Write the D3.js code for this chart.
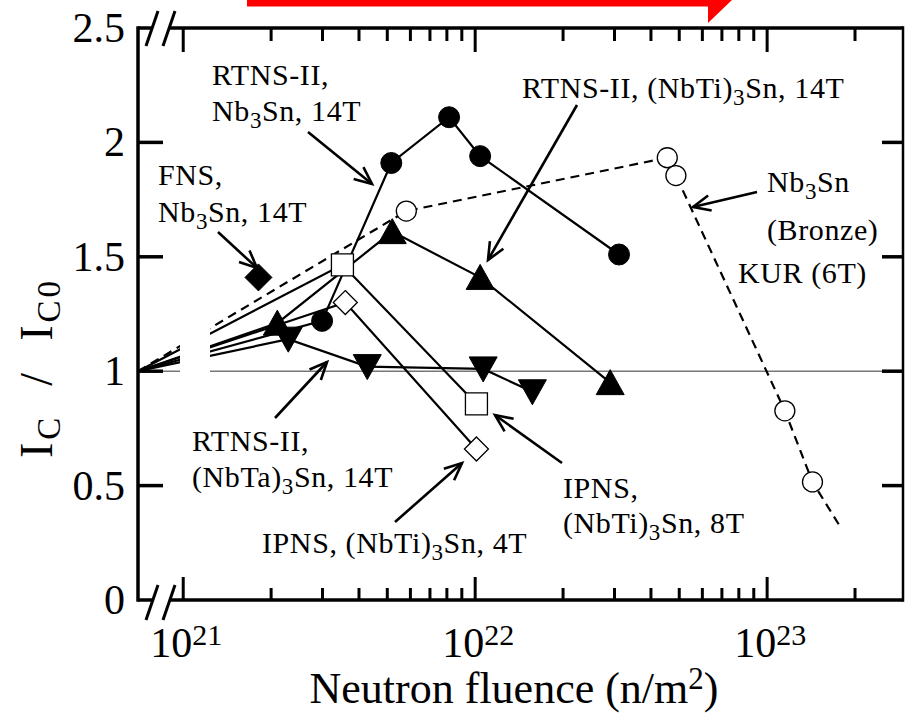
<!DOCTYPE html>
<html><head><meta charset="utf-8">
<script src="https://cdn.jsdelivr.net/npm/d3@7"></script>
<style>
body{margin:0;background:#fff}
text{font-family:'Liberation Serif','Times New Roman',serif;fill:#000}
</style>
</head><body>
<svg id="c" width="905" height="715"></svg>
<script>
// ---------- data ----------
// zero-fluence reference point (Ic/Ic0 = 1) drawn at the broken left edge of the log axis
const zeroFluence = 7e20;
const zeroRatio = 1.0;

// RTNS-II, Nb3Sn, 14T (filled circles)
const rtnsNb3SnX = [2.99e21, 5.16e21, 8.14e21, 1.04e22, 3.11e22];
const rtnsNb3SnY = [1.22, 1.91, 2.11, 1.94, 1.51];
// RTNS-II, (NbTi)3Sn, 14T (filled up-triangles)
const rtnsNbTiX = [2.10e21, 5.20e21, 1.04e22, 2.90e22];
const rtnsNbTiY = [1.21, 1.61, 1.41, 0.95];
// RTNS-II, (NbTa)3Sn, 14T (filled down-triangles)
const rtnsNbTaX = [2.29e21, 4.27e21, 1.065e22, 1.57e22];
const rtnsNbTaY = [1.14, 1.02, 1.01, 0.91];
// FNS, Nb3Sn, 14T (filled diamond)
const fnsX = [1.81e21];
const fnsY = [1.41];
// IPNS, (NbTi)3Sn, 8T (open squares)
const ipns8X = [3.51e21, 1.01e22];
const ipns8Y = [1.465, 0.857];
// IPNS, (NbTi)3Sn, 4T (open diamonds)
const ipns4X = [3.59e21, 1.01e22];
const ipns4Y = [1.30, 0.66];
// KUR (6T), Nb3Sn (Bronze) (open circles, dashed)
const kurX = [5.81e21, 4.55e22, 4.87e22, 1.15e23, 1.43e23];
const kurY = [1.70, 1.933, 1.855, 0.827, 0.516];
const kurTrendEndX = 1.78e23;
const kurTrendEndY = 0.32;

// axes
const yTicks = [0, 0.5, 1, 1.5, 2, 2.5];
const yTickLabels = ["0", "0.5", "1", "1.5", "2", "2.5"];
const xMajor = [1e21, 1e22, 1e23];
const xMajorExp = ["21", "22", "23"];
const xMinor = [2e21,3e21,4e21,5e21,6e21,7e21,8e21,9e21,2e22,3e22,4e22,5e22,6e22,7e22,8e22,9e22,2e23];
const xDomain = [7e20, 2.92e23];
const yDomain = [0, 2.5];

// ---------- layout ----------
const L = 138, R = 903, T = 28, B = 600;
const svg = d3.select("#c");
const x = d3.scaleLog().domain(xDomain).range([L, R]);
const y = d3.scaleLinear().domain(yDomain).range([B, T]);

const zip = (xs, ys) => xs.map((v, i) => [v, ys[i]]);
const withOrigin = (xs, ys) => [[zeroFluence, zeroRatio]].concat(zip(xs, ys));
const line = d3.line().x(d => x(d[0])).y(d => y(d[1]));

const gLines = svg.append("g");
// reference line at 1
gLines.append("path").attr("d", line([[xDomain[0], 1], [xDomain[1], 1]]))
  .attr("stroke", "#777").attr("stroke-width", 1.6).attr("fill", "none");

const solidSeries = [
  withOrigin(rtnsNb3SnX, rtnsNb3SnY),
  withOrigin(rtnsNbTiX, rtnsNbTiY),
  withOrigin(rtnsNbTaX, rtnsNbTaY),
  withOrigin(ipns8X, ipns8Y),
  withOrigin(ipns4X, ipns4Y)
];
solidSeries.forEach(s => gLines.append("path").attr("d", line(s))
  .attr("stroke", "#000").attr("stroke-width", 2.2).attr("fill", "none"));
gLines.append("path")
  .attr("d", line(withOrigin(kurX, kurY).concat([[kurTrendEndX, kurTrendEndY]])))
  .attr("stroke", "#000").attr("stroke-width", 2.2).attr("fill", "none")
  .attr("stroke-dasharray", "9,6");

// axis break gap in the plot
svg.append("rect").attr("x", 180).attr("y", T + 3).attr("width", 30).attr("height", B - T - 6)
  .attr("fill", "#fff");

// ---------- markers ----------
const gM = svg.append("g");
function mark(xs, ys, shape) {
  zip(xs, ys).forEach(d => {
    const cx = x(d[0]), cy = y(d[1]);
    let p;
    if (shape === "circleF" || shape === "circleO") {
      gM.append("circle").attr("cx", cx).attr("cy", cy).attr("r", shape === "circleF" ? 10.5 : 10)
        .attr("fill", shape === "circleF" ? "#000" : "#fff").attr("stroke", "#000")
        .attr("stroke-width", shape === "circleF" ? 1 : 1.3);
      return;
    }
    if (shape === "triUp") p = `M${cx},${cy-13}L${cx+14},${cy+12}L${cx-14},${cy+12}Z`;
    if (shape === "triDown") p = `M${cx-14},${cy-12}L${cx+14},${cy-12}L${cx},${cy+13}Z`;
    if (shape === "diamondF") p = `M${cx},${cy-13.5}L${cx+13.5},${cy}L${cx},${cy+13.5}L${cx-13.5},${cy}Z`;
    if (shape === "diamondO") p = `M${cx},${cy-12}L${cx+12},${cy}L${cx},${cy+12}L${cx-12},${cy}Z`;
    if (shape === "square") p = `M${cx-11},${cy-11}h22v22h-22Z`;
    const filled = shape === "triUp" || shape === "triDown" || shape === "diamondF";
    gM.append("path").attr("d", p).attr("fill", filled ? "#000" : "#fff")
      .attr("stroke", "#000").attr("stroke-width", filled ? 1 : 1.3);
  });
}
mark(kurX, kurY, "circleO");
mark(ipns8X, ipns8Y, "square");
mark(ipns4X, ipns4Y, "diamondO");
mark(rtnsNb3SnX, rtnsNb3SnY, "circleF");
mark(rtnsNbTiX, rtnsNbTiY, "triUp");
mark(rtnsNbTaX, rtnsNbTaY, "triDown");
mark(fnsX, fnsY, "diamondF");

// ---------- frame & ticks ----------
const gA = svg.append("g").attr("stroke", "#000").attr("fill", "none").attr("stroke-linecap", "butt");
const aw = 3.5;
gA.append("line").attr("x1", L).attr("x2", L).attr("y1", T - 1.7).attr("y2", B + 1.7).attr("stroke-width", aw);
gA.append("line").attr("x1", R).attr("x2", R).attr("y1", T - 1.7).attr("y2", B + 1.7).attr("stroke-width", 2.5);
// top & bottom with break gaps
[T, B].forEach(yy => {
  gA.append("line").attr("x1", L).attr("x2", 152).attr("y1", yy).attr("y2", yy).attr("stroke-width", aw);
  gA.append("line").attr("x1", 169).attr("x2", R).attr("y1", yy).attr("y2", yy).attr("stroke-width", aw);
});
// break slashes
[[B + 20, B - 15], [T + 18, T - 17]].forEach(([y1, y2]) => {
  gA.append("line").attr("x1", 146).attr("y1", y1).attr("x2", 158).attr("y2", y2).attr("stroke-width", 3);
  gA.append("line").attr("x1", 163).attr("y1", y1).attr("x2", 175).attr("y2", y2).attr("stroke-width", 3);
});
// x ticks
xMajor.forEach(v => {
  const xx = x(v);
  gA.append("line").attr("x1", xx).attr("x2", xx).attr("y1", B).attr("y2", B - 23).attr("stroke-width", 3);
  gA.append("line").attr("x1", xx).attr("x2", xx).attr("y1", T).attr("y2", T + 24).attr("stroke-width", 3);
});
xMinor.forEach(v => {
  const xx = x(v);
  gA.append("line").attr("x1", xx).attr("x2", xx).attr("y1", B).attr("y2", B - 12).attr("stroke-width", 3);
  gA.append("line").attr("x1", xx).attr("x2", xx).attr("y1", T).attr("y2", T + 13).attr("stroke-width", 3);
});
// y ticks
yTicks.filter(v => v > 0 && v < 2.5).forEach(v => {
  const yy = y(v);
  gA.append("line").attr("x1", L).attr("x2", L + 25).attr("y1", yy).attr("y2", yy).attr("stroke-width", 3.5);
  gA.append("line").attr("x1", R).attr("x2", R - 21).attr("y1", yy).attr("y2", yy).attr("stroke-width", 3.5);
});

// ---------- tick labels ----------
yTicks.forEach((v, i) => {
  svg.append("text").attr("x", 125).attr("y", y(v) + 14).attr("text-anchor", "end")
    .attr("font-size", 42).text(yTickLabels[i]);
});
xMajor.forEach((v, i) => {
  const t = svg.append("text").attr("x", x(v) + 3).attr("y", 657).attr("text-anchor", "middle").attr("font-size", 42);
  t.append("tspan").text("10");
  t.append("tspan").attr("font-size", 30).attr("dy", -12).text(xMajorExp[i]);
});
// x title
{
  const t = svg.append("text").attr("x", 514).attr("y", 703).attr("text-anchor", "middle").attr("font-size", 44);
  t.append("tspan").text("Neutron fluence (n/m");
  t.append("tspan").attr("font-size", 31).attr("dy", -14).text("2");
  t.append("tspan").attr("dy", 14).text(")");
}
// y title
{
  const t = svg.append("text").attr("transform", "translate(52,368) rotate(-90)")
    .attr("text-anchor", "middle").attr("font-size", 46).attr("letter-spacing", 3);
  t.append("tspan").text("I");
  t.append("tspan").attr("font-size", 33).attr("dy", 8).text("C");
  t.append("tspan").attr("dy", -8).text("\u00a0\u00a0/\u00a0\u00a0I");
  t.append("tspan").attr("font-size", 33).attr("dy", 8).text("C0");
}

// ---------- annotations ----------
const notes = [
  { x: 212, y: 85, gap: 36, lines: ["RTNS-II,", "Nb_3Sn, 14T"] },
  { x: 158, y: 185, gap: 37, lines: ["FNS,", "Nb_3Sn, 14T"] },
  { x: 522, y: 98, gap: 36, lines: ["RTNS-II, (NbTi)_3Sn, 14T"] },
  { x: 767, y: 192, gap: 48, lines: ["Nb_3Sn", "(Bronze)"] },
  { x: 738, y: 283, gap: 36, lines: ["KUR (6T)"] },
  { x: 192, y: 451, gap: 36, lines: ["RTNS-II,", "(NbTa)_3Sn, 14T"] },
  { x: 262, y: 553, gap: 36, lines: ["IPNS, (NbTi)_3Sn, 4T"] },
  { x: 563, y: 498, gap: 35, lines: ["IPNS,", "(NbTi)_3Sn, 8T"] }
];
notes.forEach(n => {
  n.lines.forEach((s, k) => {
    const t = svg.append("text").attr("x", n.x).attr("y", n.y + k * n.gap).attr("font-size", 30)
      .attr("letter-spacing", 0.6);
    const parts = s.split("_");
    t.append("tspan").text(parts[0]);
    if (parts.length > 1) {
      t.append("tspan").attr("font-size", 23).attr("dy", 7).text(parts[1][0]);
      t.append("tspan").attr("dy", -7).text(parts[1].slice(1));
    }
  });
});
const arrows = [
  [308, 132, 372, 184], [218, 232, 257, 268], [577, 105, 488, 260], [757, 192, 693, 207],
  [275, 418, 327, 362], [395, 522, 462, 463], [562, 463, 495, 415]
];
const gArr = svg.append("g").attr("stroke", "#000").attr("stroke-width", 2.6).attr("fill", "none");
arrows.forEach(([x1, y1, x2, y2]) => {
  gArr.append("line").attr("x1", x1).attr("y1", y1).attr("x2", x2).attr("y2", y2);
  const a = Math.atan2(y1 - y2, x1 - x2), len = 19, sp = 0.42;
  const p = `M${x2 + len * Math.cos(a + sp)},${y2 + len * Math.sin(a + sp)}L${x2},${y2}L${x2 + len * Math.cos(a - sp)},${y2 + len * Math.sin(a - sp)}`;
  gArr.append("path").attr("d", p).attr("stroke-linejoin", "miter");
});

// red arrow at top (cropped)
svg.append("path").attr("d", "M247,-10L247,6.5L708,6.5L708,23L733,-1L733,-10Z").attr("fill", "#ff0000");
</script>
</body></html>
